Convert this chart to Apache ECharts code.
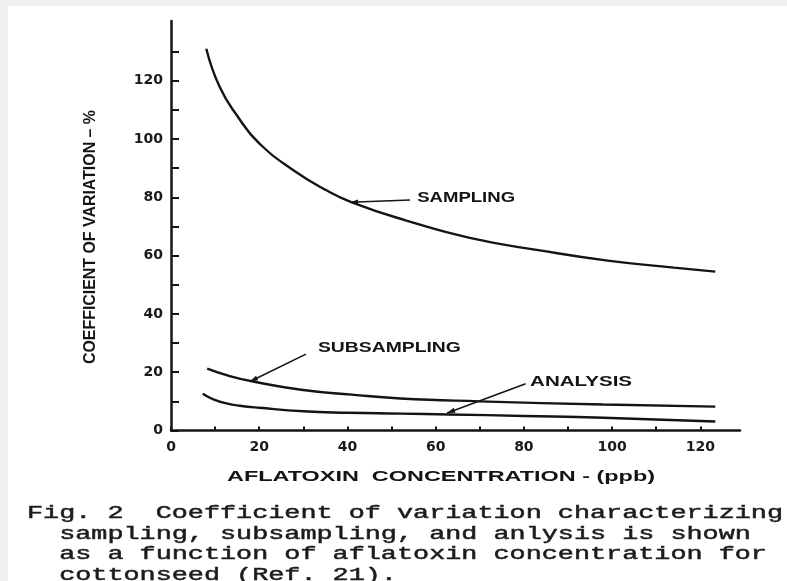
<!DOCTYPE html>
<html>
<head>
<meta charset="utf-8">
<script src="https://cdn.jsdelivr.net/npm/echarts@6/dist/echarts.min.js"></script>
<style>
  html, body { margin: 0; padding: 0; background: #f0f0f0; }
  #chart { width: 787px; height: 581px; }
</style>
</head>
<body>
<div id="chart"></div>
<script>
// Aflatoxin concentration (ppb) vs coefficient of variation (%) for each error source
const samplingConc    = [8, 11, 15, 20, 28, 35, 41, 53, 68, 84, 99, 114, 123.4];
const samplingCV      = [131, 118, 108, 98.5, 89, 82.6, 78.3, 72.2, 66, 61.7, 58.3, 55.9, 54.5];
const subsamplingConc = [8.2, 13, 18.6, 29.5, 41, 52, 70, 98, 123.4];
const subsamplingCV   = [21.2, 18.8, 16.8, 14, 12.3, 11, 10, 8.9, 8.2];
const analysisConc    = [7.2, 9.6, 12.6, 15.6, 20, 30, 40, 52, 63, 80, 98, 123.4];
const analysisCV      = [12.6, 10.7, 9.3, 8.5, 7.8, 6.6, 6.1, 5.8, 5.5, 5, 4.4, 3.1];

// Axis ticks and labels
const xTickValues  = [0, 10, 20, 30, 40, 50, 60, 70, 80, 90, 100, 110, 120];
const xLabelValues = [0, 20, 40, 60, 80, 100, 120];
const yTickValues  = [0, 10, 20, 30, 40, 50, 60, 70, 80, 90, 100, 110, 120, 130];
const yLabelValues = [0, 20, 40, 60, 80, 100, 120];

// Texts
const xTitle = 'AFLATOXIN  CONCENTRATION - (ppb)';
const yTitle = 'COEFFICIENT OF VARIATION – %';
const captionLines = [
  'Fig. 2  Coefficient of variation characterizing',
  '  sampling, subsampling, and anlysis is shown',
  '  as a function of aflatoxin concentration for',
  '  cottonseed (Ref. 21).'
];

// Curve call-outs: arrow tip on the curve, elbow of the leader, text anchor (data units)
const callouts = [
  { text: 'SAMPLING',    tip: [40.6, 78.3], elbow: [54.2, 79.1], at: [55.8, 79.6], width: 98 },
  { text: 'SUBSAMPLING', tip: [17.9, 16.8], elbow: [30.6, 26.2], at: [33.3, 28.4], width: 143 },
  { text: 'ANALYSIS',    tip: [62.6, 6.0],  elbow: [80.4, 16.0], at: [81.4, 16.6], width: 102 }
];

const INK = '#141414';
const pairs = (xs, ys) => xs.map((x, i) => [x, ys[i]]);

const measureCtx = document.createElement('canvas').getContext('2d');
function widthOf(text, font) {
  measureCtx.font = font;
  return measureCtx.measureText(text).width;
}

const chart = echarts.init(document.getElementById('chart'), null, { renderer: 'canvas' });

const curveStyle = { color: INK, width: 2.4 };
function curve(name, xs, ys) {
  return {
    name, type: 'line', data: pairs(xs, ys), smooth: 0.5,
    symbol: 'none', lineStyle: curveStyle, silent: true, z: 3
  };
}

const tickFont = { fontFamily: '"DejaVu Sans", sans-serif', fontWeight: 'bold', fontSize: 14, color: '#1a1a1a' };

chart.setOption({
  backgroundColor: '#f0f0f0',
  animation: false,
  grid: { left: 171, top: 21, width: 569, height: 409.5 },
  xAxis: {
    type: 'value', min: 0, max: 129,
    axisLine: { show: true, onZero: false, lineStyle: { color: INK, width: 2.5 } },
    axisTick: { show: true, inside: true, length: 4, customValues: xTickValues, lineStyle: { color: INK, width: 2 } },
    axisLabel: Object.assign({ customValues: xLabelValues, margin: 10 }, tickFont),
    splitLine: { show: false }
  },
  yAxis: {
    type: 'value', min: 0, max: 140.5,
    axisLine: { show: true, onZero: false, lineStyle: { color: INK, width: 2.5 } },
    axisTick: { show: true, inside: true, length: 8, customValues: yTickValues, lineStyle: { color: INK, width: 2 } },
    axisLabel: Object.assign({ customValues: yLabelValues, margin: 8 }, tickFont),
    splitLine: { show: false }
  },
  series: [
    curve('Sampling', samplingConc, samplingCV),
    curve('Subsampling', subsamplingConc, subsamplingCV),
    curve('Analysis', analysisConc, analysisCV)
  ]
});

// Overlay: paper, titles, caption and curve call-outs
const graphics = [
  { type: 'rect', z: -10, silent: true, shape: { x: 8, y: 6, width: 779, height: 575 }, style: { fill: '#ffffff' } }
];

function stretchedText(text, font, width, x, y, opts) {
  const s = width / widthOf(text, font);
  return Object.assign({
    type: 'text', x, y, scaleX: s, silent: true, z: 5,
    style: { text, font, fill: INK, textAlign: 'left', textVerticalAlign: 'middle' }
  }, opts || {});
}

const xTitleFont = 'bold 15px "Liberation Sans", Arial, sans-serif';
graphics.push(stretchedText(xTitle, xTitleFont, 428, 227, 477));

const yTitleFont = 'bold 16px "Liberation Sans Narrow", "Liberation Sans", Arial, sans-serif';
const yTitleObj = stretchedText(yTitle, yTitleFont, 254, 91, 237, { rotation: Math.PI / 2 });
yTitleObj.style.textAlign = 'center';
graphics.push(yTitleObj);

const capFont = '19px "Liberation Mono", "DejaVu Sans Mono", monospace';
const capScale = 756 / widthOf(captionLines[0], capFont);
captionLines.forEach((line, i) => {
  graphics.push({
    type: 'text', x: 27, y: 513 + i * 20.5, scaleX: capScale, silent: true, z: 5,
    style: {
      text: line, font: capFont, fill: '#1c1c1c',
      stroke: '#1c1c1c', lineWidth: 0.5,
      textAlign: 'left', textVerticalAlign: 'middle'
    }
  });
});

const labelFont = 'bold 14px "Liberation Sans", Arial, sans-serif';
callouts.forEach(c => {
  const tip = chart.convertToPixel({ gridIndex: 0 }, c.tip);
  const elbow = chart.convertToPixel({ gridIndex: 0 }, c.elbow);
  const at = chart.convertToPixel({ gridIndex: 0 }, c.at);
  graphics.push({
    type: 'line', silent: true, z: 4,
    shape: { x1: elbow[0], y1: elbow[1], x2: tip[0], y2: tip[1] },
    style: { stroke: INK, lineWidth: 1.6 }
  });
  // arrowhead at the curve
  const ang = Math.atan2(tip[1] - elbow[1], tip[0] - elbow[0]);
  const len = 8, half = 2.6;
  const bx = tip[0] - len * Math.cos(ang), by = tip[1] - len * Math.sin(ang);
  const nx = -Math.sin(ang) * half, ny = Math.cos(ang) * half;
  graphics.push({
    type: 'polygon', silent: true, z: 4,
    shape: { points: [[tip[0], tip[1]], [bx + nx, by + ny], [bx - nx, by - ny]] },
    style: { fill: INK }
  });
  graphics.push(stretchedText(c.text, labelFont, c.width, at[0], at[1]));
});

chart.setOption({ graphic: graphics });
</script>
</body>
</html>
